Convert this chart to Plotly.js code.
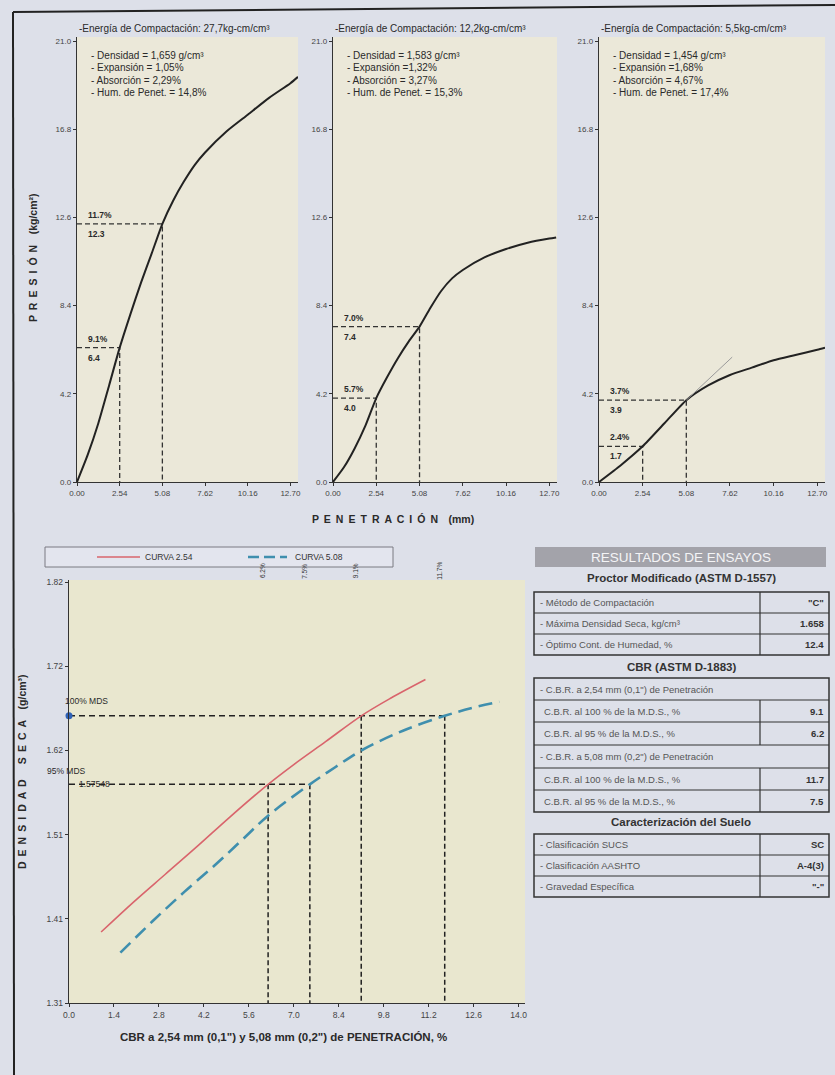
<!DOCTYPE html>
<html>
<head>
<meta charset="utf-8">
<script src="https://cdn.plot.ly/plotly-3.0.1.min.js"></script>
<style>html,body{margin:0;padding:0;background:#dde0e9;}#chart{width:835px;height:1075px;}</style>
</head>
<body>
<div id="chart"></div>
<script>
// ---------- DATA ----------
const penTicks = [0, 2.54, 5.08, 7.62, 10.16, 12.70];
const penTickText = ['0.00', '2.54', '5.08', '7.62', '10.16', '12.70'];
const presTicks = [0, 4.2, 8.4, 12.6, 16.8, 21.0];
const presTickText = ['0.0', '4.2', '8.4', '12.6', '16.8', '21.0'];

// 56 golpes
const pen56 = [0, 0.64, 1.27, 1.91, 2.54, 3.18, 3.81, 4.45, 5.08, 5.72, 6.35, 7.0, 7.62, 8.89, 10.16, 11.43, 12.70, 13.15];
const pres56 = [0, 1.3, 2.8, 4.6, 6.4, 8.0, 9.5, 10.9, 12.3, 13.4, 14.3, 15.1, 15.7, 16.7, 17.5, 18.3, 19.0, 19.3];
// 25 golpes
const pen25 = [0, 0.64, 1.27, 1.91, 2.54, 3.18, 3.81, 4.45, 5.08, 5.72, 6.35, 6.99, 7.62, 8.89, 10.16, 11.43, 12.70, 13.1];
const pres25 = [0, 0.7, 1.6, 2.7, 4.0, 5.0, 5.9, 6.7, 7.4, 8.3, 9.1, 9.7, 10.1, 10.7, 11.1, 11.4, 11.6, 11.65];
// 10 golpes
const pen10 = [0, 1.27, 2.54, 3.81, 5.08, 6.35, 7.62, 8.89, 10.16, 11.43, 12.70, 13.15];
const pres10 = [0, 0.8, 1.7, 2.8, 3.9, 4.6, 5.1, 5.45, 5.8, 6.05, 6.3, 6.4];
const tangentPen10 = [5.08, 7.75];
const tangentPres10 = [3.9, 5.95];

const cbrPen = [2.54, 5.08];
const pres56At = [6.4, 12.3];
const pct56 = ['9.1%', '11.7%'];
const pres25At = [4.0, 7.4];
const pct25 = ['5.7%', '7.0%'];
const pres10At = [1.7, 3.9];
const pct10 = ['2.4%', '3.7%'];

const titles = ['-Energía de Compactación: 27,7kg-cm/cm³', '-Energía de Compactación: 12,2kg-cm/cm³', '-Energía de Compactación: 5,5kg-cm/cm³'];
const info56 = ['- Densidad = 1,659 g/cm³', '- Expansión = 1,05%', '- Absorción = 2,29%', '- Hum. de Penet. = 14,8%'];
const info25 = ['- Densidad = 1,583 g/cm³', '- Expansión =1,32%', '- Absorción = 3,27%', '- Hum. de Penet. = 15,3%'];
const info10 = ['- Densidad = 1,454 g/cm³', '- Expansión =1,68%', '- Absorción = 4,67%', '- Hum. de Penet. = 17,4%'];

// Densidad vs CBR
const cbrTicks = [0, 1.4, 2.8, 4.2, 5.6, 7.0, 8.4, 9.8, 11.2, 12.6, 14.0];
const cbrTickText = ['0.0', '1.4', '2.8', '4.2', '5.6', '7.0', '8.4', '9.8', '11.2', '12.6', '14.0'];
const densTicks = [1.31, 1.412, 1.514, 1.616, 1.718, 1.82];
const densTickText = ['1.31', '1.41', '1.51', '1.62', '1.72', '1.82'];

const cbr254 = [1.0, 2.0, 3.0, 4.0, 5.0, 6.2, 7.0, 8.0, 9.1, 10.0, 11.1];
const dens254 = [1.396, 1.432, 1.466, 1.500, 1.535, 1.575, 1.599, 1.627, 1.658, 1.679, 1.702];
const cbr508 = [1.6, 2.6, 3.6, 4.6, 5.4, 6.2, 7.5, 8.3, 9.1, 10.4, 11.7, 12.6, 13.4];
const dens508 = [1.371, 1.409, 1.445, 1.479, 1.508, 1.537, 1.575, 1.596, 1.616, 1.640, 1.658, 1.668, 1.675];

const mds = 1.658;
const mds95 = 1.575;
const mdsLabel = '1.57548';
const cbr100 = [9.1, 11.7];
const cbr95 = [6.2, 7.5];
const cbrTopLabels = ['6.2%', '7.5%', '9.1%', '11.7%'];
const cbrTopPos = [6.2, 7.5, 9.1, 11.7];

// Tabla
const proctorLabels = ['- Método de Compactación', '- Máxima Densidad Seca, kg/cm³', '- Óptimo Cont. de Humedad, %'];
const proctorValues = ['"C"', '1.658', '12.4'];
const cbrLabels = ['- C.B.R. a 2,54 mm (0,1") de Penetración', 'C.B.R. al 100 % de la M.D.S., %', 'C.B.R. al 95 % de la M.D.S., %',
                   '- C.B.R. a 5,08 mm (0,2") de Penetración', 'C.B.R. al 100 % de la M.D.S., %', 'C.B.R. al 95 % de la M.D.S., %'];
const cbrValues = ['', '9.1', '6.2', '', '11.7', '7.5'];
const sueloLabels = ['- Clasificación SUCS', '- Clasificación AASHTO', '- Gravedad Específica'];
const sueloValues = ['SC', 'A-4(3)', '"-"'];

// ---------- LAYOUT HELPERS ----------
const W = 835, H = 1075;
const px = x => x / W;
const py = y => 1 - y / H;
const FONT = 'Liberation Sans, Arial, sans-serif';
const DARK = '#2a2a2a';
const spaced = s => s.split('').map(c => c === ' ' ? '\u2002' : c).join(' \u2009');

const traces = [];
const annotations = [];
const shapes = [];
function ann(o) {
  annotations.push(Object.assign({showarrow: false, xanchor: 'center', yanchor: 'middle'}, o));
}

function topPanel(idx, pen, pres, at, pct, info) {
  const xa = idx === 1 ? 'x' : 'x' + idx;
  const ya = idx === 1 ? 'y' : 'y' + idx;
  for (let i = 0; i < cbrPen.length; i++) {
    traces.push({x: [0, cbrPen[i], cbrPen[i]], y: [at[i], at[i], 0], xaxis: xa, yaxis: ya, mode: 'lines',
      line: {color: '#333', width: 1.3, dash: '5px,3px'}, showlegend: false, hoverinfo: 'skip'});
    ann({x: 0, y: at[i], xref: xa, yref: ya, text: '<b>' + pct[i] + '</b>', xanchor: 'left', xshift: 9, yshift: 9,
      font: {size: 8.5, color: DARK, family: FONT}});
    ann({x: 0, y: at[i], xref: xa, yref: ya, text: '<b>' + at[i].toFixed(1) + '</b>', xanchor: 'left', xshift: 9, yshift: -10,
      font: {size: 8.5, color: DARK, family: FONT}});
  }
  traces.push({x: pen, y: pres, xaxis: xa, yaxis: ya, mode: 'lines', line: {color: '#222', width: 2, shape: 'spline', smoothing: 0.6},
    showlegend: false, hoverinfo: 'skip'});
  info.forEach((t, k) => {
    ann({x: 0, y: 21.0, xref: xa, yref: ya, text: t, xanchor: 'left', xshift: 12, yshift: -14 - k * 12.5,
      font: {size: 10, color: DARK, family: FONT}});
  });
  ann({x: 0, y: 21.2, xref: xa, yref: ya, text: titles[idx - 1], xanchor: 'left', yanchor: 'bottom',
    xshift: 0, yshift: 1, font: {size: 10, color: DARK, family: FONT}});
}

topPanel(1, pen56, pres56, pres56At, pct56, info56);
topPanel(2, pen25, pres25, pres25At, pct25, info25);
topPanel(3, pen10, pres10, pres10At, pct10, info10);
traces.push({x: tangentPen10, y: tangentPres10, xaxis: 'x3', yaxis: 'y3', mode: 'lines', line: {color: '#9a9a9a', width: 1},
  showlegend: false, hoverinfo: 'skip'});

// Bottom panel background tint
shapes.push({type: 'rect', xref: 'x4 domain', yref: 'y4 domain', x0: 0, x1: 1, y0: 0, y1: 1, layer: 'below', line: {width: 0}, fillcolor: '#e9e7cf'});

// Bottom panel guides
traces.push({x: [0, cbr100[1]], y: [mds, mds], xaxis: 'x4', yaxis: 'y4', mode: 'lines', line: {color: '#222', width: 1.5, dash: '6px,4px'}, showlegend: false, hoverinfo: 'skip'});
traces.push({x: [0, cbr95[1]], y: [mds95, mds95], xaxis: 'x4', yaxis: 'y4', mode: 'lines', line: {color: '#222', width: 1.5, dash: '6px,4px'}, showlegend: false, hoverinfo: 'skip'});
cbr100.forEach(v => traces.push({x: [v, v], y: [mds, 1.31], xaxis: 'x4', yaxis: 'y4', mode: 'lines', line: {color: '#222', width: 1.5, dash: '5px,3px'}, showlegend: false, hoverinfo: 'skip'}));
cbr95.forEach(v => traces.push({x: [v, v], y: [mds95, 1.31], xaxis: 'x4', yaxis: 'y4', mode: 'lines', line: {color: '#222', width: 1.5, dash: '5px,3px'}, showlegend: false, hoverinfo: 'skip'}));
traces.push({x: cbr254, y: dens254, xaxis: 'x4', yaxis: 'y4', mode: 'lines', name: 'CURVA 2.54', line: {color: '#d9646c', width: 1.6, shape: 'spline'}, showlegend: false, hoverinfo: 'skip'});
traces.push({x: cbr508, y: dens508, xaxis: 'x4', yaxis: 'y4', mode: 'lines', name: 'CURVA 5.08', line: {color: '#3f8fae', width: 2.6, dash: '14px,7px', shape: 'spline'}, showlegend: false, hoverinfo: 'skip'});
traces.push({x: [0], y: [mds], xaxis: 'x4', yaxis: 'y4', mode: 'markers', marker: {color: '#2f62b8', size: 7}, cliponaxis: false, showlegend: false, hoverinfo: 'skip'});

ann({x: 0, y: mds, xref: 'x4', yref: 'y4', text: '100% MDS', xanchor: 'left', xshift: -6, yshift: 15, font: {size: 8.5, color: DARK, family: FONT}});
ann({x: 0, y: mds95, xref: 'x4', yref: 'y4', text: '95% MDS', xanchor: 'left', xshift: -24, yshift: 13, font: {size: 8.5, color: DARK, family: FONT}});
ann({x: 0, y: mds95, xref: 'x4', yref: 'y4', text: mdsLabel, xanchor: 'left', xshift: 8, font: {size: 8.5, color: DARK, family: FONT}});
cbrTopLabels.forEach((t, i) => {
  ann({x: cbrTopPos[i], y: py(571), xref: 'x4', yref: 'paper', text: t, textangle: -90, xshift: -6,
    font: {size: 6.5, color: '#333', family: FONT}});
});

// Legend (custom)
shapes.push({type: 'rect', xref: 'paper', yref: 'paper', x0: px(45), x1: px(393), y0: py(547), y1: py(567), line: {color: '#7a7a82', width: 1}, fillcolor: '#e3e5ee'});
shapes.push({type: 'line', xref: 'paper', yref: 'paper', x0: px(97), x1: px(140), y0: py(557), y1: py(557), line: {color: '#d9646c', width: 1.6}});
shapes.push({type: 'line', xref: 'paper', yref: 'paper', x0: px(248), x1: px(287), y0: py(557), y1: py(557), line: {color: '#3f8fae', width: 2.4, dash: '11px,5px'}});
ann({x: px(143), y: py(557), xref: 'paper', yref: 'paper', text: 'CURVA 2.54', xanchor: 'left', font: {size: 8.5, color: '#333', family: FONT}});
ann({x: px(293), y: py(557), xref: 'paper', yref: 'paper', text: 'CURVA 5.08', xanchor: 'left', font: {size: 8.5, color: '#333', family: FONT}});

// Axis titles
ann({x: px(33), y: py(258), xref: 'paper', yref: 'paper', text: '<b>' + spaced('PRESIÓN') + '\u2003(kg/cm²)</b>', textangle: -90, font: {size: 10.5, color: DARK, family: FONT}});
ann({x: px(393), y: py(519), xref: 'paper', yref: 'paper', text: '<b>' + spaced('PENETRACIÓN') + '\u2003(mm)</b>', font: {size: 10.5, color: DARK, family: FONT}});
ann({x: px(22), y: py(772), xref: 'paper', yref: 'paper', text: '<b>' + spaced('DENSIDAD SECA') + '\u2003(g/cm³)</b>', textangle: -90, font: {size: 10.5, color: DARK, family: FONT}});
ann({x: px(283), y: py(1037), xref: 'paper', yref: 'paper', text: '<b>CBR a 2,54 mm (0,1") y 5,08 mm (0,2") de PENETRACIÓN, %</b>', font: {size: 11.5, color: DARK, family: FONT}});

// Frame
shapes.push({type: 'line', xref: 'paper', yref: 'paper', x0: px(13), x1: px(835), y0: py(12), y1: py(5), line: {color: '#222', width: 2}});
shapes.push({type: 'line', xref: 'paper', yref: 'paper', x0: px(13), x1: px(14), y0: py(12), y1: py(1075), line: {color: '#222', width: 2}});

// Table
const TL = 534, TR = 829, TD = 760;
shapes.push({type: 'rect', xref: 'paper', yref: 'paper', x0: px(535), x1: px(826), y0: py(547), y1: py(567), line: {width: 0}, fillcolor: '#a3a3aa'});
ann({x: px(681), y: py(557), xref: 'paper', yref: 'paper', text: 'RESULTADOS DE ENSAYOS', font: {size: 13.5, color: '#f4f4f6', family: FONT}});

function section(title, titleY, bounds, labels, values, spanRows) {
  ann({x: px(681), y: py(titleY), xref: 'paper', yref: 'paper', text: '<b>' + title + '</b>', font: {size: 11.5, color: '#333', family: FONT}});
  shapes.push({type: 'rect', xref: 'paper', yref: 'paper', x0: px(TL), x1: px(TR), y0: py(bounds[0]), y1: py(bounds[bounds.length - 1]), line: {color: '#333', width: 1.5}});
  for (let i = 0; i < labels.length; i++) {
    const y0 = bounds[i], y1 = bounds[i + 1];
    if (i > 0) shapes.push({type: 'line', xref: 'paper', yref: 'paper', x0: px(TL), x1: px(TR), y0: py(y0), y1: py(y0), line: {color: '#333', width: 1.2}});
    const span = spanRows.indexOf(i) >= 0;
    if (!span) shapes.push({type: 'line', xref: 'paper', yref: 'paper', x0: px(TD), x1: px(TD), y0: py(y0), y1: py(y1), line: {color: '#333', width: 1.2}});
    const lx = labels[i].startsWith('-') ? 538 : 542;
    ann({x: px(lx), y: py((y0 + y1) / 2), xref: 'paper', yref: 'paper', text: labels[i], xanchor: 'left', font: {size: 9.5, color: '#555', family: FONT}});
    if (values[i]) ann({x: px(826), y: py((y0 + y1) / 2), xref: 'paper', yref: 'paper', text: '<b>' + values[i] + '</b>', xanchor: 'right', font: {size: 9.5, color: '#333', family: FONT}});
  }
}
section('Proctor Modificado (ASTM D-1557)', 578, [592, 613, 634, 655], proctorLabels, proctorValues, []);
section('CBR (ASTM D-1883)', 667, [678, 700, 722, 745, 768, 790, 812], cbrLabels, cbrValues, [0, 3]);
section('Caracterización del Suelo', 822, [834, 855, 876, 897], sueloLabels, sueloValues, []);

// Axes
function topX(d, anchor) {
  return {domain: d, anchor: anchor, range: [0, 13.15], tickvals: penTicks, ticktext: penTickText, showgrid: false, zeroline: false,
    showline: true, linecolor: '#333', linewidth: 1.3, ticks: 'outside', ticklen: 3, tickcolor: '#333',
    tickfont: {size: 8, color: '#444', family: FONT}, fixedrange: true};
}
function topY(anchor) {
  return {domain: [py(482), py(37)], range: [0, 21.2], tickvals: presTicks, ticktext: presTickText, showgrid: false, zeroline: false,
    showline: true, linecolor: '#333', linewidth: 1.3, ticks: 'outside', ticklen: 3, tickcolor: '#333',
    tickfont: {size: 8, color: '#444', family: FONT}, anchor: anchor, fixedrange: true};
}

const layout = {
  width: W, height: H,
  margin: {l: 0, r: 0, t: 0, b: 0},
  paper_bgcolor: '#dde0e9',
  plot_bgcolor: '#ebe8d9',
  showlegend: false,
  font: {family: FONT},
  xaxis: topX([px(77), px(298)], 'y'),
  yaxis: topY('x'),
  xaxis2: topX([px(333), px(557)], 'y2'),
  yaxis2: topY('x2'),
  xaxis3: topX([px(599), px(825)], 'y3'),
  yaxis3: topY('x3'),
  xaxis4: {domain: [px(69), px(525)], range: [0, 14.2], tickvals: cbrTicks, ticktext: cbrTickText, anchor: 'y4',
    showgrid: false, zeroline: false, showline: true, linecolor: '#333', linewidth: 1.3, ticks: 'outside', ticklen: 3, tickcolor: '#333',
    tickfont: {size: 8.5, color: '#444', family: FONT}, fixedrange: true},
  yaxis4: {domain: [py(1003), py(580)], range: [1.31, 1.8226], tickvals: densTicks, ticktext: densTickText, anchor: 'x4',
    showgrid: false, zeroline: false, showline: true, linecolor: '#333', linewidth: 1.3, ticks: 'outside', ticklen: 3, tickcolor: '#333',
    tickfont: {size: 8.5, color: '#444', family: FONT}, fixedrange: true},
  annotations: annotations,
  shapes: shapes
};

Plotly.newPlot('chart', traces, layout, {staticPlot: true, displayModeBar: false});
</script>
</body>
</html>
